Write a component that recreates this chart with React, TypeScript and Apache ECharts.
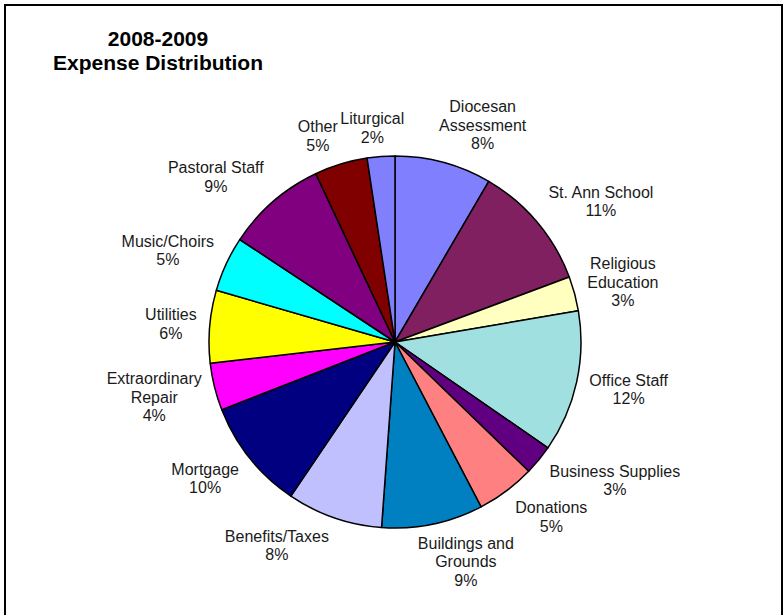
import React, { useEffect, useRef } from 'react';
import * as echarts from 'echarts';

const categories = [
  'Diocesan\nAssessment',
  'St. Ann School',
  'Religious\nEducation',
  'Office Staff',
  'Business Supplies',
  'Donations',
  'Buildings and\nGrounds',
  'Benefits/Taxes',
  'Mortgage',
  'Extraordinary\nRepair',
  'Utilities',
  'Music/Choirs',
  'Pastoral Staff',
  'Other',
  'Liturgical',
];

const values = [8.4, 10.9, 3.0, 12.3, 2.6, 5.1, 8.8, 8.3, 9.6, 4.1, 6.3, 4.8, 8.7, 4.6, 2.4];

const colors = [
  '#8080FF', '#802060', '#FFFFC0', '#A0E0E0', '#600080', '#FF8080', '#0080C0', '#C0C0FF',
  '#000080', '#FF00FF', '#FFFF00', '#00FFFF', '#800080', '#800000', '#8080FF',
];

const titleLines = ['2008-2009', 'Expense Distribution'];

const CX = 395;
const CY = 342;
const R = 186;
const GAP = 10;

const clamp = (v: number) => Math.max(-1, Math.min(1, v));

export default function App() {
  const ref = useRef<HTMLDivElement>(null);
  useEffect(() => {
    const chart = echarts.init(ref.current!, null, { renderer: 'svg' });
    const total = values.reduce((a, b) => a + b, 0);
    const mids: number[] = [];
    let acc = 0;
    values.forEach((v) => {
      mids.push((acc + v / 2) / total);
      acc += v;
    });
    chart.setOption({
      animation: false,
      backgroundColor: '#fff',
      graphic: [
        {
          type: 'rect',
          z: 100,
          shape: { x: 5, y: 5, width: 777, height: 660 },
          style: { fill: 'none', stroke: '#000', lineWidth: 2 },
          silent: true,
        },
        {
          type: 'text',
          x: 158,
          y: 26,
          style: {
            text: titleLines.join('\n'),
            align: 'center',
            verticalAlign: 'top',
            fontSize: 21,
            fontWeight: 'bold',
            fontFamily: '"Liberation Sans", Arial, sans-serif',
            lineHeight: 24,
            fill: '#000',
          },
        },
      ],
      series: [
        {
          type: 'pie',
          center: [CX, CY],
          radius: R,
          startAngle: 90,
          clockwise: true,
          avoidLabelOverlap: false,
          emphasis: { disabled: true },
          data: categories.map((name, i) => ({
            name,
            value: values[i],
            itemStyle: { color: colors[i] },
          })),
          itemStyle: { borderColor: '#000', borderWidth: 1.5 },
          label: {
            show: true,
            position: 'outside',
            formatter: (p: any) => `${p.name}\n${Math.round(p.percent)}%`,
            fontSize: 16,
            fontFamily: '"Liberation Sans", Arial, sans-serif',
            lineHeight: 18.5,
            color: '#1a1a1a',
          },
          labelLine: { show: false },
          labelLayout: (params: any) => {
            const th = mids[params.dataIndex] * Math.PI * 2;
            const ux = Math.sin(th);
            const uy = -Math.cos(th);
            const a = params.labelRect.width / 2 + 3;
            const b = params.labelRect.height / 2;
            const px = CX + (R + GAP) * ux;
            const py = CY + (R + GAP) * uy;
            return {
              x: px + a * clamp(3 * ux),
              y: py + b * clamp(1.2 * uy),
              align: 'center',
              verticalAlign: 'middle',
            };
          },
        },
      ],
    });
    return () => chart.dispose();
  }, []);
  return (
    <div
      ref={ref}
      style={{ position: 'fixed', left: 0, top: 0, width: 784, height: 615 }}
    />
  );
}
